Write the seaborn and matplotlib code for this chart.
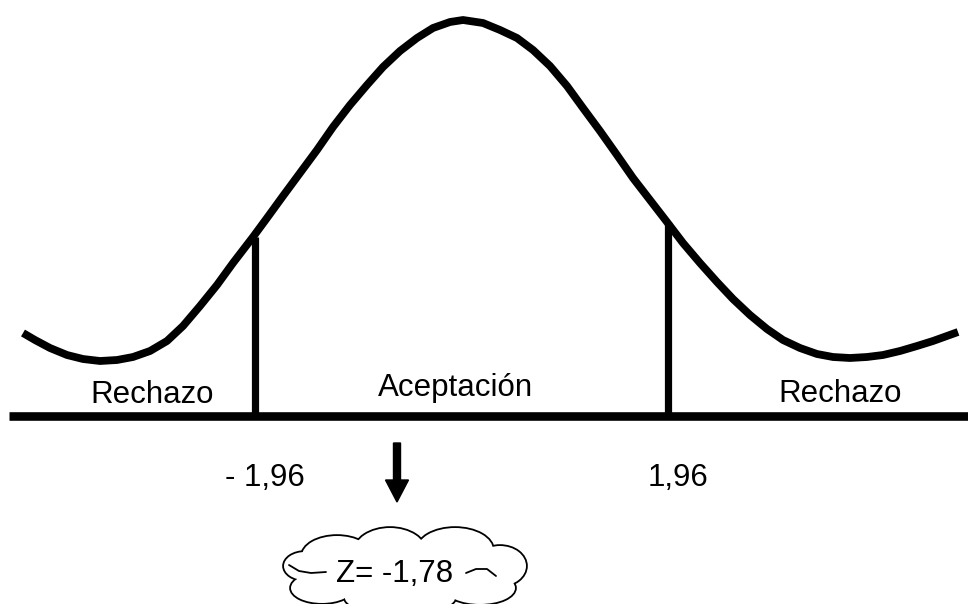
import matplotlib
matplotlib.use("Agg")
import matplotlib.pyplot as plt
import seaborn as sns
import pandas as pd
from matplotlib.patches import Ellipse

# ---- data (pixel-space units, y grows downward) ----
curve_x = [23, 35, 50, 67, 83, 100, 117, 133, 150, 167, 183, 200, 217, 233,
           253, 267, 283, 300, 317, 333, 350, 367, 383, 400, 417, 433, 450,
           463, 483, 500, 517, 533, 550, 567, 583, 600, 617, 633, 650, 667,
           683, 700, 717, 733, 750, 767, 783, 800, 817, 833, 850, 867, 883,
           900, 917, 933, 958]
curve_y = [333, 340, 348, 355, 359, 361, 360, 357, 351, 341, 326, 306, 285, 263,
           237, 218, 196, 173, 150, 127, 105, 85, 67, 51, 38, 28, 22,
           20, 23, 30, 38, 50, 66, 86, 108, 131, 155, 178, 200, 222,
           243, 263, 282, 299, 315, 329, 340, 348, 354, 357, 358, 357, 355,
           351, 346, 341, 332]

baseline_y = 416
baseline_x = [9, 968]
crit_x = [255, 668]          # -1,96 and 1,96
crit_top = [237, 222]
crit_labels = ["- 1,96", "1,96"]
crit_label_x = [265, 678]

region_labels = ["Rechazo", "Aceptación", "Rechazo"]
region_label_x = [152, 456, 840]
region_label_y = [403, 396, 402]

z_label = "Z= -1,78"
z_pos = (395, 582)
arrow_x = 397
arrow_y = (443, 502)

# cloud lobes: (cx, cy, w, h)
cloud_lobes = [(305, 566, 42, 28), (337, 556, 70, 40), (390, 552, 72, 48),
               (455, 550, 76, 44), (500, 566, 52, 40), (322, 588, 62, 30),
               (400, 598, 110, 32), (480, 588, 70, 32), (400, 570, 170, 50)]
hook_left = ([289, 299, 311, 326], [565, 571, 573, 572])
hook_right = ([466, 476, 487, 496], [573, 569, 569, 576])

# ---- figure ----
sns.set_theme(style="white")
plt.rcParams['font.family'] = ['Liberation Sans', 'DejaVu Sans']

fig = plt.figure(figsize=(9.68, 6.04), dpi=100)
ax = fig.add_axes([0, 0, 1, 1])
ax.set_xlim(0, 968)
ax.set_ylim(604, 0)
ax.axis('off')

df = pd.DataFrame({"x": curve_x, "y": curve_y})
sns.lineplot(data=df, x="x", y="y", ax=ax, color="black", linewidth=5.6,
             sort=False, estimator=None, solid_capstyle="butt",
             solid_joinstyle="round")

ax.plot(baseline_x, [baseline_y, baseline_y], color="black", linewidth=6.2,
        solid_capstyle="butt")
for cx, top in zip(crit_x, crit_top):
    ax.plot([cx, cx], [top, baseline_y], color="black", linewidth=5.2,
            solid_capstyle="butt")

fs = 22.5
for lab, lx, ly in zip(region_labels, region_label_x, region_label_y):
    ax.text(lx, ly, lab, ha="center", va="baseline", fontsize=fs, color="black")
for lab, lx in zip(crit_labels, crit_label_x):
    ax.text(lx, 486, lab, ha="center", va="baseline", fontsize=fs, color="black")

ax.arrow(arrow_x, arrow_y[0], 0, arrow_y[1] - arrow_y[0], width=7,
         head_width=23, head_length=22, length_includes_head=True,
         color="black", zorder=3)

for cx, cy, w, h in cloud_lobes:
    ax.add_patch(Ellipse((cx, cy), w, h, facecolor="white", edgecolor="black",
                         linewidth=2.6, zorder=3))
for cx, cy, w, h in cloud_lobes:
    ax.add_patch(Ellipse((cx, cy), w, h, facecolor="white", edgecolor="none",
                         zorder=4))
ax.plot(*hook_left, color="black", linewidth=1.3, zorder=5)
ax.plot(*hook_right, color="black", linewidth=1.3, zorder=5)
ax.text(z_pos[0], z_pos[1], z_label, ha="center", va="baseline", fontsize=fs,
        color="black", zorder=6)

fig.savefig("out.png", dpi=100, facecolor="white")
